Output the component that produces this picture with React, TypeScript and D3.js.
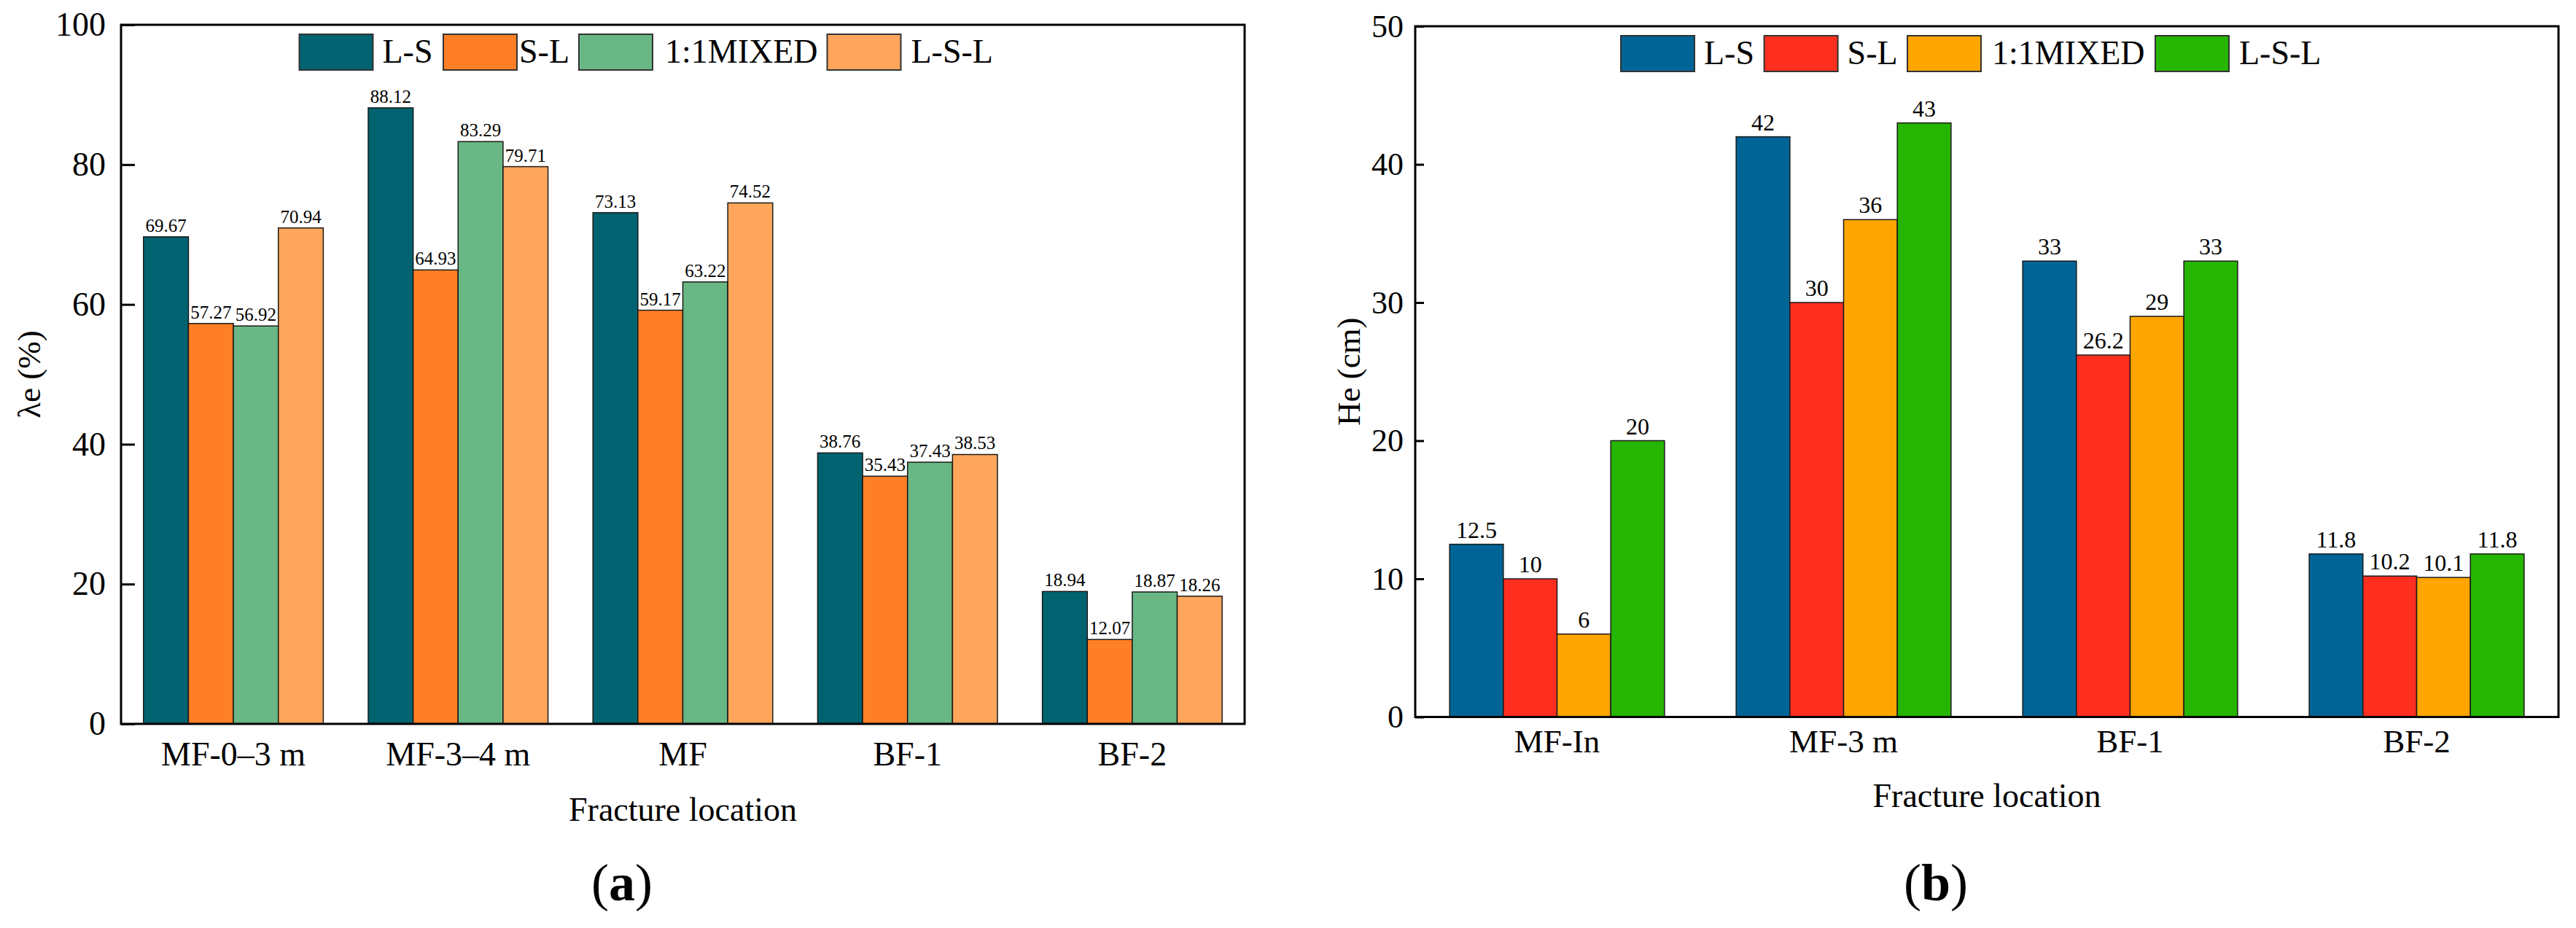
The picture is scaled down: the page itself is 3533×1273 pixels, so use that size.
import React, {useEffect, useRef} from "react";
import * as d3 from "d3";

const seriesNames = ["L-S", "S-L", "1:1MIXED", "L-S-L"];

// (a) λe (%)
const catsA = ["MF-0–3 m", "MF-3–4 m", "MF", "BF-1", "BF-2"];
const lsA = [69.67, 88.12, 73.13, 38.76, 18.94];
const slA = [57.27, 64.93, 59.17, 35.43, 12.07];
const mixA = [56.92, 83.29, 63.22, 37.43, 18.87];
const lslA = [70.94, 79.71, 74.52, 38.53, 18.26];
const ticksA = [0, 20, 40, 60, 80, 100];
const colorsA = ["#00636f", "#ff7f27", "#69b784", "#ffa65c"];

// (b) He (cm)
const catsB = ["MF-In", "MF-3 m", "BF-1", "BF-2"];
const lsB = [12.5, 42, 33, 11.8];
const slB = [10, 30, 26.2, 10.2];
const mixB = [6, 36, 29, 10.1];
const lslB = [20, 43, 33, 11.8];
const ticksB = [0, 10, 20, 30, 40, 50];
const colorsB = ["#006496", "#ff2f1f", "#ffa500", "#26b500"];

const FONT = "'Liberation Serif', 'Times New Roman', serif";

interface PanelProps {
    cats: string[];
    series: number[][];
    colors: string[];
    ticks: number[];
    yLabel: string;
    tag: string;
    box: {x0: number; x1: number; y0: number; y1: number};
    padIn: number;
    padOut: number;
    tickLen: number;
    tickPad: number;
    tickFont: number;
    catFont: number;
    catDy: number;
    valueFont: number;
    valueDy: number;
    legendX: number[];
    legendTextDx: number[];
    legendY: number;
    titleY: number;
    yLabelX: number;
    tagX: number;
}

const Panel: React.FC<PanelProps> = (p) => {
    const gRef = useRef<SVGGElement | null>(null);

    useEffect(() => {
        const g = d3.select(gRef.current);
        g.selectAll("*").remove();
        const {x0, x1, y0, y1} = p.box;

        const x = d3.scaleBand<string>()
            .domain(p.cats)
            .range([x0, x1])
            .paddingInner(p.padIn)
            .paddingOuter(p.padOut);
        const xs = d3.scaleBand<string>()
            .domain(seriesNames)
            .range([0, x.bandwidth()]);
        const y = d3.scaleLinear()
            .domain([p.ticks[0], p.ticks[p.ticks.length - 1]])
            .range([y1, y0]);

        // bars
        const rows = p.cats.map((c, i) => ({cat: c, vals: p.series.map(s => s[i])}));
        const grp = g.selectAll("g.grp").data(rows).join("g")
            .attr("class", "grp")
            .attr("transform", d => `translate(${x(d.cat)},0)`);
        grp.selectAll("rect")
            .data(d => d.vals.map((v, k) => ({v, k})))
            .join("rect")
            .attr("x", d => xs(seriesNames[d.k])!)
            .attr("width", xs.bandwidth())
            .attr("y", d => y(d.v))
            .attr("height", d => y(0) - y(d.v))
            .attr("fill", d => p.colors[d.k])
            .attr("stroke", "#1a1a1a")
            .attr("stroke-width", 1.5);
        grp.selectAll("text")
            .data(d => d.vals.map((v, k) => ({v, k})))
            .join("text")
            .attr("x", d => xs(seriesNames[d.k])! + xs.bandwidth() / 2)
            .attr("y", d => y(d.v) - p.valueDy)
            .attr("text-anchor", "middle")
            .attr("font-family", FONT)
            .attr("font-size", p.valueFont)
            .text(d => String(d.v));

        // y axis
        const yAxis = d3.axisLeft(y).tickValues(p.ticks).tickSize(-p.tickLen).tickPadding(p.tickPad);
        const ya = g.append("g").attr("transform", `translate(${x0},0)`).call(yAxis);
        ya.select(".domain").remove();
        ya.selectAll("line").attr("stroke", "#000").attr("stroke-width", 3);
        ya.selectAll("text").attr("font-family", FONT).attr("font-size", p.tickFont).attr("fill", "#000");

        // x axis
        const xAxis = d3.axisBottom(x).tickSize(0);
        const xa = g.append("g").attr("transform", `translate(0,${y1})`).call(xAxis);
        xa.select(".domain").remove();
        xa.selectAll("text")
            .attr("dy", null)
            .attr("y", p.catDy)
            .attr("font-family", FONT)
            .attr("font-size", p.catFont)
            .attr("fill", "#000");

        // frame
        g.append("rect")
            .attr("x", x0).attr("y", y0)
            .attr("width", x1 - x0).attr("height", y1 - y0)
            .attr("fill", "none")
            .attr("stroke", "#000")
            .attr("stroke-width", 3);

        // legend
        const leg = g.append("g");
        seriesNames.forEach((name, k) => {
            const lx = x0 + p.legendX[k];
            leg.append("rect")
                .attr("x", lx).attr("y", p.legendY)
                .attr("width", 101).attr("height", 49)
                .attr("fill", p.colors[k])
                .attr("stroke", "#333")
                .attr("stroke-width", 2);
            leg.append("text")
                .attr("x", lx + 101 + p.legendTextDx[k])
                .attr("y", p.legendY + 39)
                .attr("font-family", FONT)
                .attr("font-size", 46)
                .text(name);
        });

        // axis titles
        g.append("text")
            .attr("x", (x0 + x1) / 2)
            .attr("y", p.titleY)
            .attr("text-anchor", "middle")
            .attr("font-family", FONT)
            .attr("font-size", 46)
            .text("Fracture location");
        g.append("text")
            .attr("transform", `translate(${p.yLabelX},${(y0 + y1) / 2}) rotate(-90)`)
            .attr("text-anchor", "middle")
            .attr("dominant-baseline", "central")
            .attr("font-family", FONT)
            .attr("font-size", 45)
            .text(p.yLabel);

        // panel tag
        const tg = g.append("text")
            .attr("x", p.tagX)
            .attr("y", 1235)
            .attr("text-anchor", "middle")
            .attr("font-family", FONT)
            .attr("font-size", 72);
        tg.append("tspan").text("(");
        tg.append("tspan").attr("font-weight", "bold").text(p.tag);
        tg.append("tspan").text(")");
    }, [p]);

    return <g ref={gRef}></g>;
};

const App: React.FC = () => {
    return (
        <svg width={3533} height={1273}
             style={{position: "absolute", left: 0, top: 0, background: "#fff"}}>
            <rect x={0} y={0} width={3533} height={1273} fill="#fff"/>
            <Panel
                cats={catsA}
                series={[lsA, slA, mixA, lslA]}
                colors={colorsA}
                ticks={ticksA}
                yLabel="λe (%)"
                tag="a"
                box={{x0: 166, x1: 1707, y0: 34, y1: 993}}
                padIn={0.2}
                padOut={0.1}
                tickLen={19}
                tickPad={21}
                tickFont={46}
                catFont={46}
                catDy={57}
                valueFont={25}
                valueDy={7}
                legendX={[244.5, 442, 628, 968.5]}
                legendTextDx={[13, 3, 17, 14]}
                legendY={47}
                titleY={1126}
                yLabelX={40}
                tagX={853}
            />
            <Panel
                cats={catsB}
                series={[lsB, slB, mixB, lslB]}
                colors={colorsB}
                ticks={ticksB}
                yLabel="He (cm)"
                tag="b"
                box={{x0: 1941, x1: 3509, y0: 36, y1: 983.5}}
                padIn={0.25}
                padOut={0.12}
                tickLen={12}
                tickPad={16}
                tickFont={44}
                catFont={45}
                catDy={48}
                valueFont={32}
                valueDy={9}
                legendX={[282, 478.6, 675, 1015]}
                legendTextDx={[13, 13, 15, 14]}
                legendY={49}
                titleY={1107}
                yLabelX={1850}
                tagX={2655}
            />
        </svg>
    );
};

export default App;
